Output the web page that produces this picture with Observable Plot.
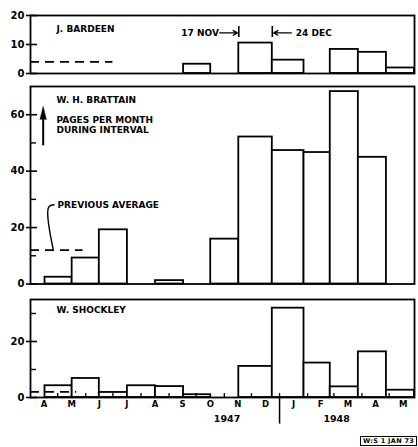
<!DOCTYPE html>
<html>
<head>
<meta charset="utf-8">
<script src="https://cdn.jsdelivr.net/npm/d3@7"></script>
<script src="https://cdn.jsdelivr.net/npm/@observablehq/plot@0.6"></script>
<style>
  body { margin: 0; background: #fff; }
  #chart { position: relative; width: 418px; height: 447px; background: #fff; }
  #chart svg { display: block; }
  .stamp {
    position: absolute; left: 360px; top: 436px; height: 8px; line-height: 8px;
    border: 1.3px solid #000; padding: 0 2px; font: bold 6.5px "DejaVu Sans", sans-serif;
    letter-spacing: 0.3px; white-space: nowrap; color: #000;
  }
</style>
</head>
<body>
<div id="chart"></div>
<script>
// ---- data ----
const intervalEdges = ["1947-04-17","1947-05-17","1947-06-16","1947-07-17","1947-08-17","1947-09-17",
  "1947-10-17","1947-11-17","1947-12-24","1948-01-28","1948-02-26","1948-03-28","1948-04-28","1948-05-29"];
const bardeen  = [0, 0, 0, 0, 0, 3.2, 0, 10.5, 4.6, 0, 8.3, 7.3, 1.9];
const brattain = [2.4, 9.2, 19.2, 0, 1.2, 0, 15.9, 52.1, 47.3, 46.6, 68.2, 44.9, 0];
const shockley = [4.2, 6.8, 1.8, 4.2, 3.9, 1.0, 0, 11.1, 31.9, 12.3, 3.8, 16.3, 2.6];
const previousAverage = [4, 12, 2];
const previousAverageEnd = ["1947-07-01", "1947-05-29", "1947-05-22"];
const panelNames = ["J. BARDEEN", "W. H. BRATTAIN", "W. SHOCKLEY"];
const yMax = [20, 70, 35];
const yTickLabels = [[0, 10, 20], [0, 20, 40, 60], [0, 20]];
const yMinorTicks = [[], [10, 30, 50], [10, 30]];
const monthLetters = ["A","M","J","J","A","S","O","N","D","J","F","M","A","M"];
const yearLabels = ["1947", "1948"];
const yearLabelDates = ["1947-11-04", "1948-03-04"];
const xDomain = ["1947-04-01", "1948-05-29"];
const intervalLabels = ["17 NOV", "24 DEC"];
const unitNote = "PAGES PER MONTH\nDURING INTERVAL";
const averageNote = "PREVIOUS AVERAGE";
const stampText = "W:S 1 JAN 73";

// ---- derived ----
const parse = d3.utcParse("%Y-%m-%d");
const edges = intervalEdges.map(parse);
const domain = xDomain.map(parse);
const series = [bardeen, brattain, shockley];
const rows = (vals) => vals.map((v, i) => ({start: edges[i], end: edges[i + 1], value: v}));
const monthStarts = d3.utcMonth.range(domain[0], d3.utcMonth.offset(domain[0], monthLetters.length));
const monthCenters = monthStarts.map(m => new Date((+m + +d3.utcMonth.offset(m, 1)) / 2));
const yearBoundary = d3.utcYear.floor(parse(yearLabelDates[1]));

const FONT = "DejaVu Sans";
const SW = 1.8;

function panel(i, {height, marginTop, marginBottom, extra = []}) {
  const avg = [{value: previousAverage[i], start: domain[0], end: parse(previousAverageEnd[i])}];
  const svg = Plot.plot({
    width: 418, height, marginLeft: 30, marginRight: 4, marginTop, marginBottom,
    x: {type: "utc", domain, axis: null},
    y: {domain: [0, yMax[i]]},
    style: {fontFamily: FONT, fontWeight: "bold", fontSize: "9px", background: "white", color: "black", overflow: "visible"},
    marks: [
      Plot.rect(rows(series[i]), {x1: "start", x2: "end", y1: 0, y2: "value",
        fill: "white", stroke: "black", strokeWidth: SW}),
      Plot.ruleY(avg, {y: "value", x1: "start", x2: "end", stroke: "black",
        strokeWidth: 1.6, strokeDasharray: "9,6"}),
      Plot.frame({stroke: "black", strokeWidth: SW}),
      Plot.axisY(yTickLabels[i], {tickSize: 4, tickPadding: 2, fontSize: 10, strokeWidth: 1.6, label: null}),
      Plot.axisY(yTickLabels[i], {tickSize: -7, tickFormat: () => "", strokeWidth: 1.6, label: null}),
      Plot.axisY(yMinorTicks[i], {tickSize: -6, tickFormat: () => "", strokeWidth: 1.4, label: null}),
      Plot.text([panelNames[i]], {frameAnchor: "top-left", text: d => d, textAnchor: "start",
        lineAnchor: "middle", dx: 26, dy: i === 2 ? 11 : 13.5}),
      ...extra
    ]
  });
  return svg;
}

// Bardeen annotations
const ivMarks = [
  {date: edges[7], label: intervalLabels[0], dir: -1},
  {date: edges[8], label: intervalLabels[1], dir: 1}
];
const bardeenExtra = [
  Plot.ruleX(ivMarks, {x: "date", y1: 12.4, y2: 16.2, strokeWidth: 1.6}),
  Plot.arrow(ivMarks, {x1: d => d3.utcDay.offset(d.date, d.dir * 21), x2: "date", y1: 14, y2: 14,
    headLength: 5, strokeWidth: 1.4, insetEnd: 1.5}),
  Plot.text([ivMarks[0]], {x: d => d3.utcDay.offset(d.date, -22), y: 14, text: "label",
    textAnchor: "end", lineAnchor: "middle"}),
  Plot.text([ivMarks[1]], {x: d => d3.utcDay.offset(d.date, 26), y: 14, text: "label",
    textAnchor: "start", lineAnchor: "middle"})
];

// Brattain annotations
const upArrow = [{date: parse("1947-04-15"), from: 49, to: 58.3}];
const leader = [
  {date: parse("1947-04-27"), v: 28.1},
  {date: parse("1947-04-22"), v: 27.6},
  {date: parse("1947-04-20"), v: 25.1},
  {date: parse("1947-04-22"), v: 19.1},
  {date: parse("1947-04-26"), v: 12.4}
];
const brattainExtra = [
  Plot.ruleX(upArrow, {x: "date", y1: "from", y2: "to", strokeWidth: 2}),
  Plot.vector(upArrow, {x: "date", y: "to", length: 13, r: 3.2, shape: "spike", anchor: "start",
    fill: "black", stroke: "black", strokeWidth: 0.5}),
  Plot.text([unitNote], {frameAnchor: "top-left", text: d => d, textAnchor: "start",
    lineAnchor: "middle", lineHeight: 1.1, dx: 26, dy: 38.7}),
  Plot.text([averageNote], {frameAnchor: "top-left", text: d => d, textAnchor: "start",
    lineAnchor: "middle", dx: 27, dy: 118.5}),
  Plot.line(leader, {x: "date", y: "v", curve: "natural", strokeWidth: 1.4})
];

// Shockley (bottom) axis
const shockleyExtra = [
  Plot.ruleX(monthStarts.slice(1), {x: d => d, y1: 0, y2: 1.4, strokeWidth: 1.3}),
  Plot.text(monthCenters, {x: d => d, text: (d, i) => monthLetters[i], frameAnchor: "bottom",
    dy: 6.5, lineAnchor: "middle", fontSize: 8.5}),
  Plot.text(yearLabels, {x: (d, i) => parse(yearLabelDates[i]), text: d => d, frameAnchor: "bottom",
    dy: 21, lineAnchor: "middle", fontSize: 9.5}),
  Plot.ruleX([yearBoundary], {x: d => d, y1: 0, y2: -9.5, strokeWidth: 1.5})
];

const chart = document.getElementById("chart");
chart.append(panel(0, {height: 79, marginTop: 15, marginBottom: 6, extra: bardeenExtra}));
chart.append(panel(1, {height: 211, marginTop: 7, marginBottom: 6.5, extra: brattainExtra}));
chart.append(panel(2, {height: 157, marginTop: 9, marginBottom: 50, extra: shockleyExtra}));

const stamp = document.createElement("div");
stamp.className = "stamp";
stamp.textContent = stampText;
chart.append(stamp);
</script>
</body>
</html>
